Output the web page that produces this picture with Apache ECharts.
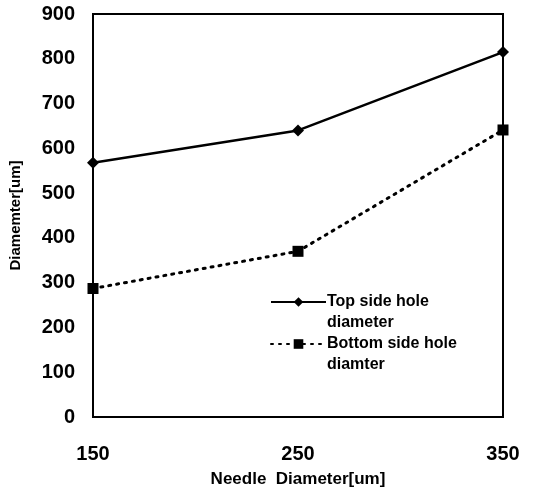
<!DOCTYPE html>
<html><head><meta charset="utf-8">
<script src="https://cdn.jsdelivr.net/npm/echarts@6/dist/echarts.min.js"></script>
<style>html,body{margin:0;padding:0;background:#fff}#c{width:539px;height:493px}</style>
</head><body><div id="c"></div>
<script>
var needleDiameters = [150, 250, 350];
var topSide = [568, 640, 815];
var bottomSide = [287, 370, 641];
var seriesNames = ['Top side hole', 'Bottom side hole'];
var secondLines = ['diameter', 'diamter'];
var xName = 'Needle  Diameter[um]';
var yName = 'Diamemter[um]';

var font = 'Liberation Sans, Arial, sans-serif';
var chart = echarts.init(document.getElementById('c'));
function pairs(v){ return needleDiameters.map(function(x,i){return [x, v[i]];}); }
chart.setOption({
  animation: false,
  grid: {left: 93, right: 36, top: 14, bottom: 75, show: true, borderColor: '#000', borderWidth: 2, backgroundColor: 'transparent'},
  xAxis: {type: 'value', min: 150, max: 350, interval: 100,
    name: xName, nameLocation: 'middle', nameGap: 54,
    nameTextStyle: {fontFamily: font, fontSize: 17, fontWeight: 'bold', color: '#000'},
    axisLine: {lineStyle: {color: '#000', width: 2}}, axisTick: {show: false}, splitLine: {show: false},
    axisLabel: {margin: 27, fontFamily: font, fontSize: 20, fontWeight: 'bold', color: '#000'}},
  yAxis: {type: 'value', min: 0, max: 900, interval: 100,
    name: yName, nameLocation: 'middle', nameGap: 70,
    nameTextStyle: {fontFamily: font, fontSize: 15, fontWeight: 'bold', color: '#000'},
    axisLine: {show: true, lineStyle: {color: '#000', width: 2}}, axisTick: {show: false}, splitLine: {show: false},
    axisLabel: {margin: 18, fontFamily: font, fontSize: 20, fontWeight: 'bold', color: '#000'}},
  legend: {orient: 'vertical', left: 265, top: 289, itemWidth: 55, itemHeight: 12, itemGap: 26,
    textStyle: {fontFamily: font, fontSize: 16, fontWeight: 'bold', color: '#000', padding: [0,0,0,-4]},
    data: seriesNames},
  graphic: [
    {type: 'text', left: 327, top: 315, style: {text: secondLines[0], font: 'bold 16px ' + font, fill: '#000'}},
    {type: 'text', left: 327, top: 357, style: {text: secondLines[1], font: 'bold 16px ' + font, fill: '#000'}}
  ],
  series: [
    {name: seriesNames[0], type: 'line', data: pairs(topSide), symbol: 'diamond', symbolSize: 12,
      lineStyle: {color: '#000', width: 2.5}, itemStyle: {color: '#000'}},
    {name: seriesNames[1], type: 'line', data: pairs(bottomSide), symbol: 'rect', symbolSize: 11,
      lineStyle: {color: '#000', width: 3, type: [2, 6], cap: 'round'}, itemStyle: {color: '#000'}}
  ]
});
</script></body></html>
